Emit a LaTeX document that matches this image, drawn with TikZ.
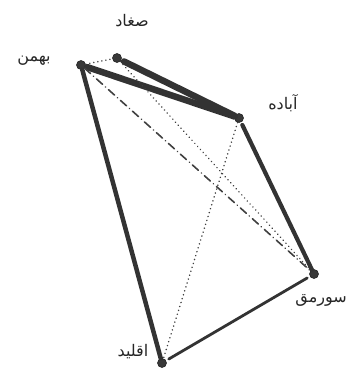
\documentclass[tikz,border=0pt]{standalone}
\usepackage{fontspec}
\newfontfamily\arabicfont[Script=Arabic]{DejaVu Sans}
\TeXXeTstate=1
\begin{document}
\begin{tikzpicture}[x=1pt,y=-1pt,
  city/.style={circle,fill=black!78,draw=black!85,line width=0.6pt,inner sep=0pt,minimum size=9pt},
  lbl/.style={font=\arabicfont\fontsize{16}{18}\selectfont,text=black!85,inner sep=0pt},
  road/.style={draw=black!80,line cap=round},
  dotline/.style={draw=black!75,line width=1.6pt,dash pattern=on 0.1pt off 4pt,line cap=round},
  dashdotline/.style={draw=black!75,line width=1.6pt,dash pattern=on 8pt off 4pt on 0.1pt off 4pt,line cap=round}]
\useasboundingbox (0,0) rectangle (348,373);
% cities
\node[city] (bahman) at (81,65) {};
\node[city] (saghad) at (117,58) {};
\node[city] (abadeh) at (239,118) {};
\node[city] (surmagh) at (314,274) {};
\node[city] (eghlid) at (162,363) {};
% labels
\node[lbl] (lsaghad) at (132,21) {\beginR صغاد\endR};
\node[lbl] (lbahman) at (34,61) {\beginR بهمن\endR};
\node[lbl] (labadeh) at (283,103) {\beginR آباده\endR};
\node[lbl,anchor=east] (lsurmagh) at (347,300) {\beginR سورمق\endR};
\node[lbl] (leghlid) at (133,352) {\beginR اقلید\endR};
% roads
\draw[road,line width=6.5pt,shorten <=3pt] (saghad) -- (abadeh);
\draw[road,line width=6.5pt,shorten <=2pt] (bahman) -- (abadeh);
\draw[road,line width=4.5pt] (bahman) -- (eghlid);
\draw[road,line width=4.2pt,shorten <=3pt] (abadeh) -- (surmagh);
\draw[road,line width=2.8pt,shorten >=3pt,shorten <=3pt] (surmagh) -- (eghlid);
\draw[dotline] (bahman) -- (saghad);
\draw[dotline] (saghad) -- (surmagh);
\draw[dotline] (abadeh) -- (eghlid);
\draw[dashdotline] (bahman) -- (surmagh);
\end{tikzpicture}
\end{document}
